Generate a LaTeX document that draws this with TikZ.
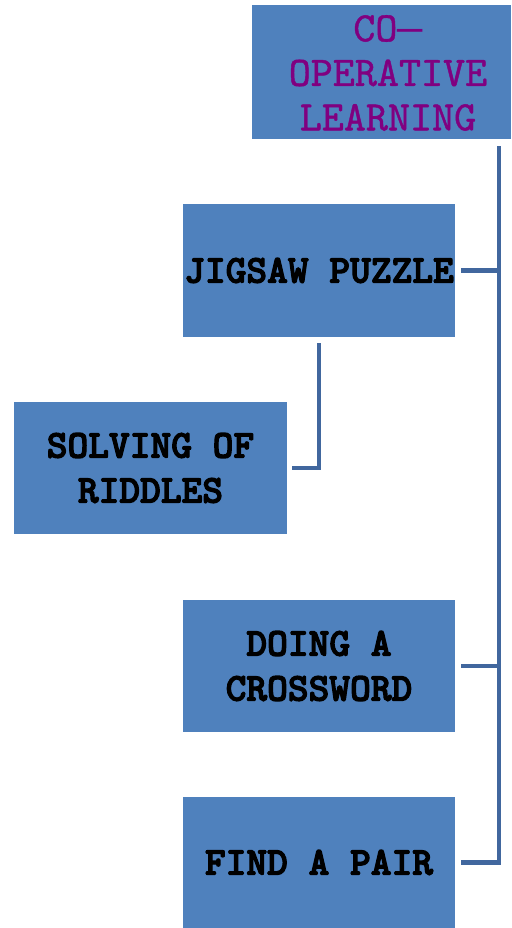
\documentclass[tikz,border=0pt]{standalone}
\usepackage{fontspec}
\newfontfamily\heavytt{lmmonolt10-bold.otf}[FakeBold=3]
\newfontfamily\titlett{lmmono10-regular.otf}[FakeBold=1]
\newfontfamily\dashfont{Liberation Mono}
\definecolor{boxblue}{HTML}{4F81BD}
\definecolor{linkblue}{HTML}{41679E}
\definecolor{titlepurple}{HTML}{800080}
\begin{document}
\begin{tikzpicture}[x=1pt,y=1pt,
  box/.style={fill=boxblue, draw=none, inner sep=0pt, align=center,
    font=\heavytt\fontsize{39.5}{45}\selectfont, text=black},
  titletext/.style={font=\titlett\fontsize{42}{44.5}\selectfont, text=titlepurple, align=center, inner sep=0pt},
  link/.style={draw=linkblue, line width=4.5pt, line cap=rect}]
\useasboundingbox (0,0) rectangle (511,-928);
\node[box, minimum width=259pt, minimum height=134pt] (top) at (381.5,-72) {};
\node[titletext] (toptext) at (388,-73) {CO{\dashfont —}\\OPERATIVE\\LEARNING};
\node[box, minimum width=272pt, minimum height=133pt] (jig) at (319,-270.5) {JIGSAW PUZZLE};
\node[box, minimum width=273pt, minimum height=132pt] (sol) at (150.5,-468) {SOLVING OF\\RIDDLES};
\node[box, minimum width=272pt, minimum height=132pt] (cross) at (319,-666) {DOING A\\CROSSWORD};
\node[box, minimum width=272pt, minimum height=131pt] (pair) at (319,-862.5) {FIND A PAIR};
\coordinate (trunkTop) at (499,-148);
\coordinate (trunkBot) at (499,-863);
\draw[link] (trunkTop) -- (trunkBot);
\draw[link] ([xshift=8pt]jig.east) -- (jig.east -| trunkTop);
\draw[link] ([xshift=8pt]cross.east) -- (cross.east -| trunkTop);
\draw[link] ([xshift=8pt]pair.east) -- (pair.east -| trunkTop);
\coordinate (jigDown) at (319,-345);
\draw[link] (jigDown) -- (jigDown |- sol.east) -- ([xshift=7pt]sol.east);
\end{tikzpicture}
\end{document}
